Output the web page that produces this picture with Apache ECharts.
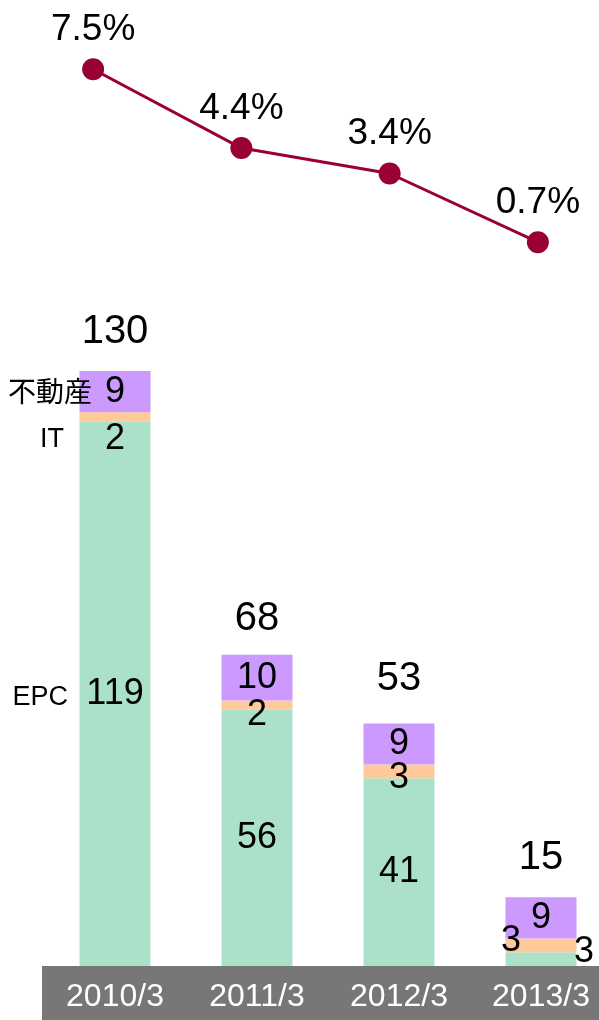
<!DOCTYPE html>
<html>
<head>
<meta charset="utf-8">
<script src="https://cdn.jsdelivr.net/npm/echarts@6/dist/echarts.min.js"></script>
<style>
html,body{margin:0;padding:0;background:#fff;}
#c{width:599px;height:1020px;}
</style>
</head>
<body>
<div id="c"></div>
<script>
// ---- data ----
const categories = ['2010/3', '2011/3', '2012/3', '2013/3'];
const epc = [119, 56, 41, 3];
const it = [2, 2, 3, 3];
const realEstate = [9, 10, 9, 9];
const totals = [130, 68, 53, 15];
const margin = [7.5, 4.4, 3.4, 0.7];
const seriesNames = ['EPC', 'IT', '不動産'];

// ---- styles ----
const NUM_FONT = '"Liberation Sans", Arial, sans-serif';
const CJK_FONT = '"Noto Sans CJK JP", "Liberation Sans", sans-serif';
const itLabelOffsets = [[0, 22], [0, 10], [0, 7], [-30, -4]];
const epcLabelOffsets = [[0, 0], [0, 0], [0, 0], [43, -7]];
const totalOffsets = [[0, 0], [0, 3], [0, -5], [0, 0]];

function withOffsets(values, offsets) {
  return values.map((v, i) => ({
    value: v,
    label: { offset: offsets[i] }
  }));
}

const chart = echarts.init(document.getElementById('c'), null, { renderer: 'canvas' });

const numLabel = {
  show: true,
  position: 'inside',
  color: '#000',
  fontSize: 36,
  fontFamily: NUM_FONT
};

chart.setOption({
  animation: false,
  backgroundColor: '#ffffff',
  grid: [
    { left: 19, width: 593, top: 56.5, height: 203.5, outerBoundsMode: 'none', containLabel: false },
    { left: 44, width: 568, top: 371, height: 595, outerBoundsMode: 'none', containLabel: false }
  ],
  xAxis: [
    { gridIndex: 0, type: 'category', data: categories, show: false, boundaryGap: true },
    {
      gridIndex: 1, type: 'category', data: categories, boundaryGap: true, z: 10,
      axisLine: { show: false },
      axisTick: { show: false },
      axisLabel: { color: '#ffffff', fontSize: 32, fontFamily: NUM_FONT, margin: 15 }
    }
  ],
  yAxis: [
    { gridIndex: 0, type: 'value', min: 0, max: 8, show: false },
    { gridIndex: 1, type: 'value', min: 0, max: 130, show: false }
  ],
  graphic: [
    { type: 'rect', z: -100, shape: { x: 42, y: 966, width: 557, height: 54 }, style: { fill: '#777777' } },
    { type: 'text', z: 100, x: 92, y: 391, style: { text: seriesNames[2], font: '28px ' + CJK_FONT, fill: '#000', align: 'right', verticalAlign: 'middle' } },
    { type: 'text', z: 100, x: 64, y: 440, style: { text: seriesNames[1], font: '27px ' + NUM_FONT, fill: '#000', align: 'right', verticalAlign: 'middle' } },
    { type: 'text', z: 100, x: 68, y: 698, style: { text: seriesNames[0], font: '27px ' + NUM_FONT, fill: '#000', align: 'right', verticalAlign: 'middle' } }
  ],
  series: [
    {
      type: 'line', xAxisIndex: 0, yAxisIndex: 0, data: margin,
      symbol: 'circle', symbolSize: 22,
      lineStyle: { color: '#990033', width: 3 },
      itemStyle: { color: '#990033' },
      label: { show: true, position: 'top', distance: 10, formatter: '{c}%', color: '#000', fontSize: 37, fontFamily: NUM_FONT }
    },
    {
      name: seriesNames[0], type: 'bar', stack: 's', xAxisIndex: 1, yAxisIndex: 1, barWidth: '50%',
      data: withOffsets(epc, epcLabelOffsets),
      itemStyle: { color: '#ABE1C9' },
      label: numLabel
    },
    {
      name: seriesNames[1], type: 'bar', stack: 's', xAxisIndex: 1, yAxisIndex: 1, barWidth: '50%',
      data: withOffsets(it, itLabelOffsets),
      itemStyle: { color: '#FFC999' },
      label: numLabel
    },
    {
      name: seriesNames[2], type: 'bar', stack: 's', xAxisIndex: 1, yAxisIndex: 1, barWidth: '50%',
      data: realEstate,
      itemStyle: { color: '#CC99FF' },
      label: numLabel
    },
    {
      type: 'scatter', xAxisIndex: 1, yAxisIndex: 1, symbolSize: 0,
      data: withOffsets(totals, totalOffsets),
      itemStyle: { opacity: 1, color: 'rgba(0,0,0,0)' },
      label: { show: true, position: 'top', distance: 19, color: '#000', fontSize: 40, fontFamily: NUM_FONT }
    }
  ]
});
</script>
</body>
</html>
